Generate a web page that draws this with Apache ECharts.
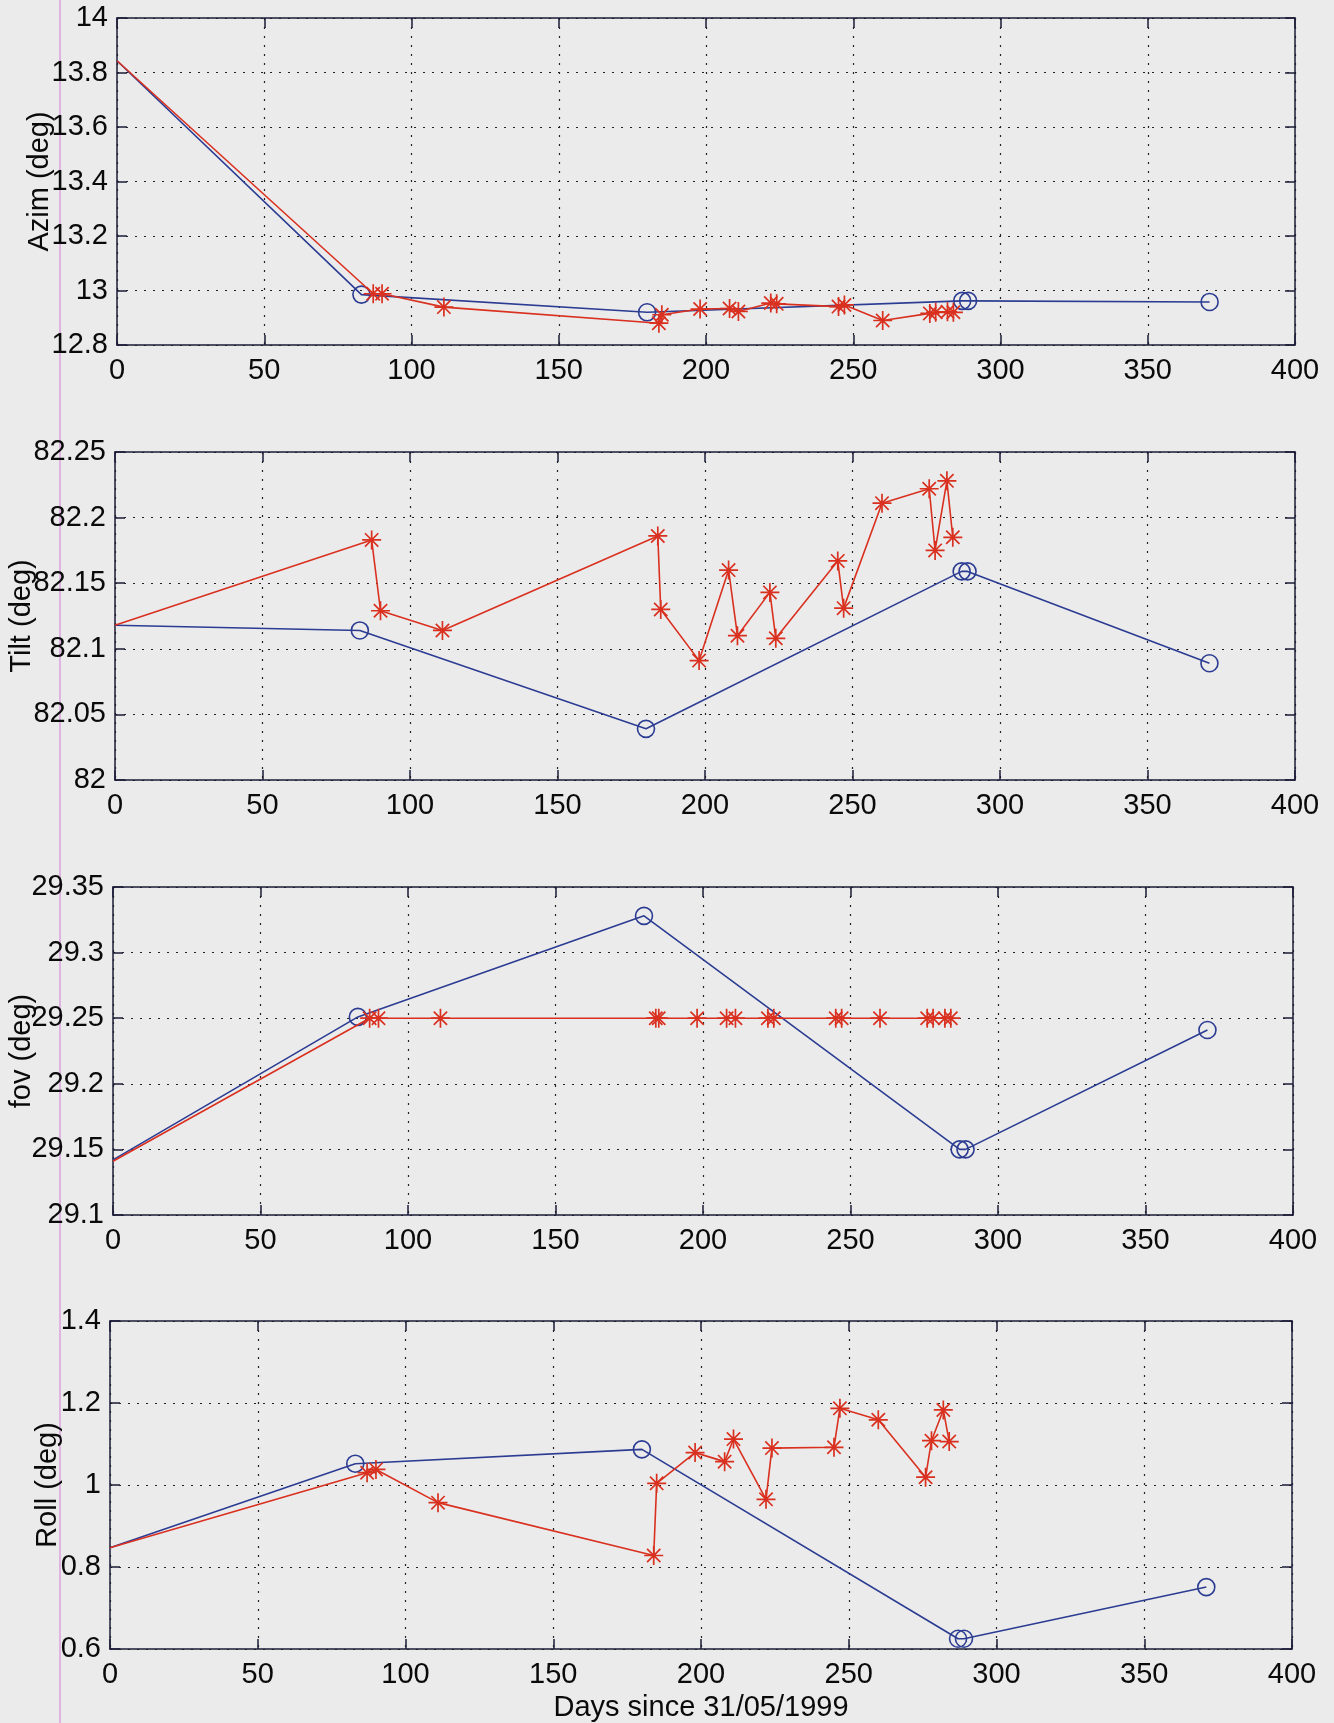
<!DOCTYPE html>
<html>
<head>
<meta charset="utf-8">
<script src="https://cdn.jsdelivr.net/npm/echarts@6/dist/echarts.min.js"></script>
<style>
html, body { margin: 0; padding: 0; background: #ebebeb; }
#main { width: 1334px; height: 1723px; }
</style>
</head>
<body>
<div id="main"></div>
<script>
// days since 31/05/1999
var blueDays = [0, 83, 180, 287, 289, 371];
var redDays = [0, 87, 90, 111, 184, 185, 198, 208, 211, 222, 224, 245, 247, 260, 276, 278, 282, 284];

// Azim (deg)
var azimBlue = [13.843, 12.985, 12.92, 12.962, 12.962, 12.958];
var azimRed = [13.843, 12.988, 12.988, 12.939, 12.88, 12.911, 12.932, 12.934, 12.923, 12.954, 12.951, 12.941, 12.947, 12.89, 12.916, 12.92, 12.922, 12.92];

// Tilt (deg)
var tiltBlue = [82.118, 82.114, 82.039, 82.159, 82.159, 82.089];
var tiltRed = [82.118, 82.183, 82.129, 82.114, 82.186, 82.130, 82.091, 82.160, 82.110, 82.143, 82.108, 82.167, 82.131, 82.211, 82.222, 82.175, 82.228, 82.185];

// fov (deg)
var fovBlue = [29.142, 29.251, 29.328, 29.150, 29.150, 29.241];
var fovRed = [29.141, 29.25, 29.25, 29.25, 29.25, 29.25, 29.25, 29.25, 29.25, 29.25, 29.25, 29.25, 29.25, 29.25, 29.25, 29.25, 29.25, 29.25];

// Roll (deg)
var rollBlue = [0.847, 1.052, 1.087, 0.625, 0.625, 0.751];
var rollRed = [0.847, 1.030, 1.038, 0.957, 0.828, 1.004, 1.079, 1.057, 1.112, 0.965, 1.090, 1.092, 1.187, 1.159, 1.019, 1.108, 1.183, 1.106];

var yNames = ['Azim (deg)', 'Tilt (deg)', 'fov (deg)', 'Roll (deg)'];
var yMin = [12.8, 82, 29.1, 0.6];
var yMax = [14, 82.25, 29.35, 1.4];
var yStep = [0.2, 0.05, 0.05, 0.2];
var xTitle = 'Days since 31/05/1999';

var blueSets = [azimBlue, tiltBlue, fovBlue, rollBlue];
var redSets = [azimRed, tiltRed, fovRed, rollRed];

var chart = echarts.init(document.getElementById('main'));

var frame = '#1c1c38';
var blue = '#2b3c92';
var red = '#d9301f';
var txt = '#0a0a0a';
var star = 'path://M10,0L10,20M0,10L20,10M3,3L17,17M3,17L17,3';

var grids = [
	{ left: 117, top: 18, width: 1178, height: 327, outerBoundsMode: 'none' },
	{ left: 115, top: 452, width: 1180, height: 328, outerBoundsMode: 'none' },
	{ left: 113, top: 887, width: 1180, height: 328, outerBoundsMode: 'none' },
	{ left: 110, top: 1321, width: 1182, height: 328, outerBoundsMode: 'none' }
];
var nameGaps = [63, 79, 77, 48];

// first point (day 0) is drawn without a marker, like the original
function pairs(xs, ys) {
	return xs.map(function(x, i) {
		if (i == 0) {
			return { value : [x, ys[i]], symbol : 'none' };
		}
		return [x, ys[i]];
	});
}

var xAxes = [], yAxes = [], series = [];
for (var i = 0; i < 4; i++) {
	var line = { color: frame, width: 1.5 };
	xAxes.push({
		gridIndex : i,
		type : 'value',
		min : 0,
		max : 400,
		interval : 50,
		position : 'bottom',
		name : i == 3 ? xTitle : '',
		nameLocation : 'middle',
		nameGap : 44,
		nameMoveOverlap : false,
		nameTextStyle : { fontSize : 29, color : txt },
		axisLine : { show : true, onZero : false, lineStyle : line },
		axisTick : { inside : true, length : 10, lineStyle : line },
		axisLabel : { fontSize : 29, color : txt, margin : 11 },
		splitLine : { show : true, lineStyle : { type : [2, 7], color : '#222', width : 1.2 } }
	});
	xAxes.push({
		gridIndex : i,
		type : 'value',
		min : 0,
		max : 400,
		interval : 50,
		position : 'top',
		axisLine : { show : true, onZero : false, lineStyle : line },
		axisTick : { inside : true, length : 10, lineStyle : line },
		axisLabel : { show : false },
		splitLine : { show : false }
	});
	yAxes.push({
		gridIndex : i,
		type : 'value',
		min : yMin[i],
		max : yMax[i],
		interval : yStep[i],
		position : 'left',
		name : yNames[i],
		nameLocation : 'middle',
		nameRotate : 90,
		nameGap : nameGaps[i],
		nameMoveOverlap : false,
		nameTextStyle : { fontSize : 29, color : txt },
		axisLine : { show : true, onZero : false, lineStyle : line },
		axisTick : { inside : true, length : 10, lineStyle : line },
		axisLabel : { fontSize : 29, color : txt, margin : 9 },
		splitLine : { show : true, lineStyle : { type : [2, 7], color : '#222', width : 1.2 } }
	});
	yAxes.push({
		gridIndex : i,
		type : 'value',
		min : yMin[i],
		max : yMax[i],
		interval : yStep[i],
		position : 'right',
		axisLine : { show : true, onZero : false, lineStyle : line },
		axisTick : { inside : true, length : 10, lineStyle : line },
		axisLabel : { show : false },
		splitLine : { show : false }
	});

	series.push({
		type : 'line',
		xAxisIndex : i * 2,
		yAxisIndex : i * 2,
		data : pairs(blueDays, blueSets[i]),
		symbol : 'circle',
		symbolSize : 17,
		lineStyle : { color : blue, width : 1.6 },
		itemStyle : { color : 'rgba(0,0,0,0)', borderColor : blue, borderWidth : 1.6 },
		z : 2
	});
	series.push({
		type : 'line',
		xAxisIndex : i * 2,
		yAxisIndex : i * 2,
		data : pairs(redDays, redSets[i]),
		symbol : star,
		symbolSize : 19,
		lineStyle : { color : red, width : 1.6 },
		itemStyle : { color : 'rgba(0,0,0,0)', borderColor : red, borderWidth : 1.7 },
		z : 3
	});
}

chart.setOption({
	animation : false,
	backgroundColor : '#ebebeb',
	textStyle : { fontFamily : 'Liberation Sans, Arial, Helvetica, sans-serif' },
	grid : grids,
	xAxis : xAxes,
	yAxis : yAxes,
	series : series,
	graphic : [ {
		type : 'line',
		shape : { x1 : 60, y1 : 0, x2 : 60, y2 : 1723 },
		style : { stroke : '#d9a3dc', lineWidth : 1.5 },
		z : -1
	} ]
});
</script>
</body>
</html>
